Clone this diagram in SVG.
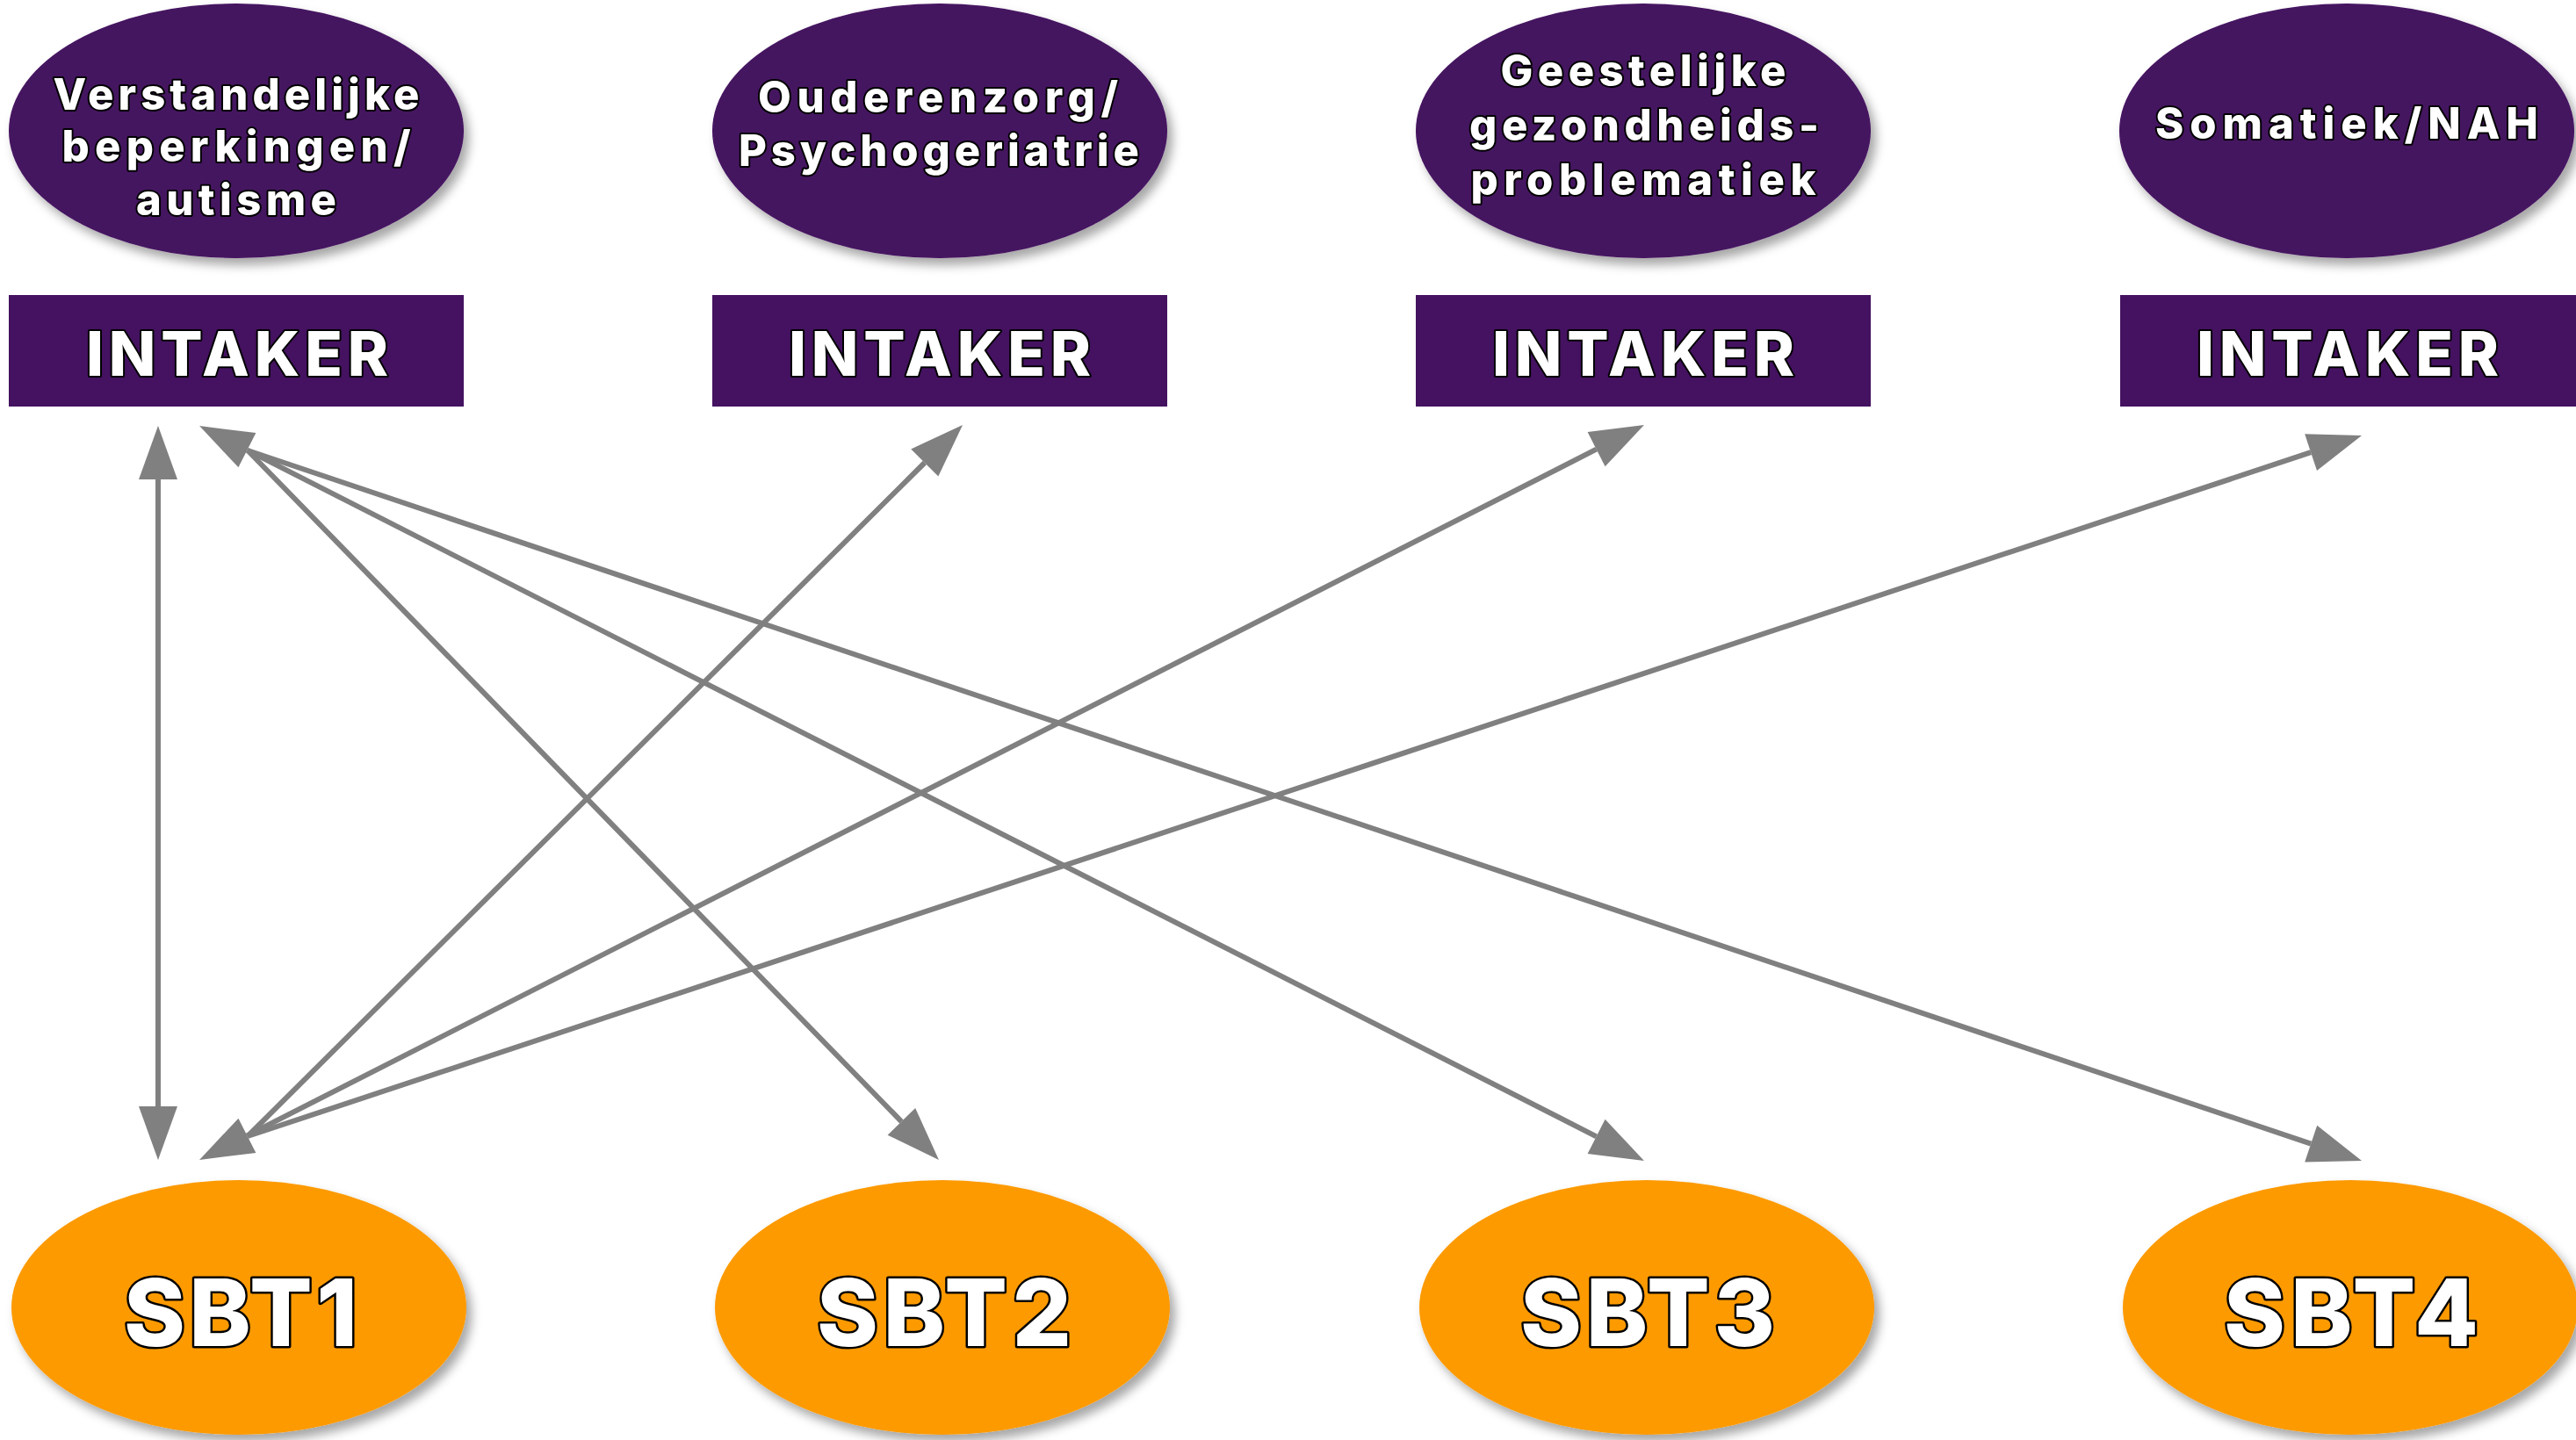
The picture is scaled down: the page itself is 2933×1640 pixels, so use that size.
<svg xmlns="http://www.w3.org/2000/svg" width="2933" height="1640" viewBox="0 0 2933 1640">
<style>
.bg{fill:#ffffff}
.purple{fill:#441260}
.orange{fill:#FD9A00}
.lbl{font-family:Inter,"Liberation Sans",sans-serif;font-weight:800;fill:#ffffff;stroke:#000000;stroke-width:4;stroke-linejoin:round;paint-order:stroke fill;text-anchor:middle}
.cat{font-size:49px}
.intk{font-size:70px}
.sbt{font-size:106px;stroke-width:5}
.conn{fill:none;stroke:#808080;stroke-width:6}
</style>
<defs>
<filter id="sh" x="-10%" y="-10%" width="125%" height="130%">
<feDropShadow dx="6" dy="8" stdDeviation="6" flood-color="#000000" flood-opacity="0.35"/>
</filter>
<marker id="ah" markerUnits="userSpaceOnUse" markerWidth="62" markerHeight="46" refX="0" refY="22" orient="auto-start-reverse" overflow="visible">
<path d="M0,0 L61,22 L0,44 Z" fill="#808080"/>
</marker>
</defs>
<rect class="bg" x="0" y="0" width="2933" height="1640"/>

<g id="cat1">
<ellipse class="purple" cx="269" cy="149" rx="259" ry="145" filter="url(#sh)"/>
<text class="lbl cat" x="269" y="125" textLength="417">Verstandelijke</text>
<text class="lbl cat" x="269" y="184" textLength="397">beperkingen/</text>
<text class="lbl cat" x="269" y="245" textLength="228">autisme</text>
</g>
<g id="cat2">
<ellipse class="purple" cx="1070" cy="149" rx="259" ry="145" filter="url(#sh)"/>
<text class="lbl cat" x="1068" y="128" textLength="410">Ouderenzorg/</text>
<text class="lbl cat" x="1069" y="189" textLength="456">Psychogeriatrie</text>
</g>
<g id="cat3">
<ellipse class="purple" cx="1871" cy="149" rx="259" ry="145" filter="url(#sh)"/>
<text class="lbl cat" x="1871" y="98" textLength="325">Geestelijke</text>
<text class="lbl cat" x="1872" y="160" textLength="398">gezondheids-</text>
<text class="lbl cat" x="1871" y="222" textLength="393">problematiek</text>
</g>
<g id="cat4">
<ellipse class="purple" cx="2672" cy="149" rx="259" ry="145" filter="url(#sh)"/>
<text class="lbl cat" x="2672" y="158" textLength="436">Somatiek/NAH</text>
</g>

<g id="intaker1">
<rect class="purple" x="10" y="336" width="518" height="127"/>
<text class="lbl intk" x="270" y="428" textLength="344">INTAKER</text>
</g>
<g id="intaker2">
<rect class="purple" x="811" y="336" width="518" height="127"/>
<text class="lbl intk" x="1070" y="428" textLength="344">INTAKER</text>
</g>
<g id="intaker3">
<rect class="purple" x="1612" y="336" width="518" height="127"/>
<text class="lbl intk" x="1871" y="428" textLength="344">INTAKER</text>
</g>
<g id="intaker4">
<rect class="purple" x="2414" y="336" width="519" height="127"/>
<text class="lbl intk" x="2673" y="428" textLength="344">INTAKER</text>
</g>

<g id="sbt1">
<ellipse class="orange" cx="272" cy="1489" rx="259" ry="145" filter="url(#sh)"/>
<text class="lbl sbt" x="274" y="1533" textLength="266">SBT1</text>
</g>
<g id="sbt2">
<ellipse class="orange" cx="1073" cy="1489" rx="259" ry="145" filter="url(#sh)"/>
<text class="lbl sbt" x="1075" y="1533" textLength="290">SBT2</text>
</g>
<g id="sbt3">
<ellipse class="orange" cx="1875" cy="1489" rx="259" ry="145" filter="url(#sh)"/>
<text class="lbl sbt" x="1876" y="1533" textLength="290">SBT3</text>
</g>
<g id="sbt4">
<ellipse class="orange" cx="2676" cy="1489" rx="259" ry="145" filter="url(#sh)"/>
<text class="lbl sbt" x="2677" y="1533" textLength="290">SBT4</text>
</g>

<g id="connectors">
<path class="conn" d="M180,546 L180,1260" marker-start="url(#ah)" marker-end="url(#ah)"/>
<path class="conn" d="M281.4,512.7 L1817.6,1294.3" marker-start="url(#ah)" marker-end="url(#ah)"/>
<path class="conn" d="M282,513 L1026.4,1277.3" marker-end="url(#ah)"/>
<path class="conn" d="M282,513 L2631.2,1302.6" marker-end="url(#ah)"/>
<path class="conn" d="M281.4,1293.3 L1817.6,511.7" marker-start="url(#ah)" marker-end="url(#ah)"/>
<path class="conn" d="M282,1294 L1052.8,527" marker-end="url(#ah)"/>
<path class="conn" d="M282,1294 L2631.1,515.2" marker-end="url(#ah)"/>
</g>
</svg>
